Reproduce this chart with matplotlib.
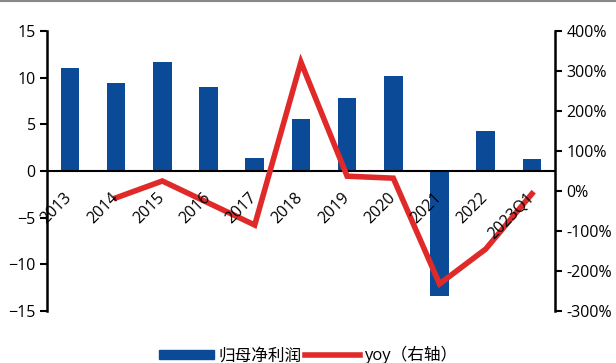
import matplotlib
matplotlib.use("Agg")
import matplotlib.pyplot as plt
from matplotlib.lines import Line2D
from matplotlib.ticker import FuncFormatter
from matplotlib.transforms import ScaledTranslation

plt.rcParams['font.family'] = ['Open Sans', 'Noto Sans CJK SC', 'DejaVu Sans']

categories = ['2013', '2014', '2015', '2016', '2017', '2018', '2019', '2020', '2021', '2022', '2023Q1']
net_profit = [11.0, 9.4, 11.7, 9.0, 1.4, 5.6, 7.8, 10.2, -13.4, 4.3, 1.3]
yoy_cats = ['2014', '2015', '2016', '2017', '2018', '2019', '2020', '2021', '2022', '2023Q1']
yoy = [-17, 25, -30, -85, 322, 37, 32, -232, -145, -7]

bar_color = '#0A4A96'
line_color = '#E02A2A'

fig = plt.figure(figsize=(6.16, 3.63), dpi=100)
ax = fig.add_axes([0.076, 0.143, 0.825, 0.772])
ax2 = ax.twinx()
ax2.set_ylim(-300, 400)
ax.set_ylim(-15, 15)

x = list(range(len(categories)))
ax.bar(x, net_profit, width=0.4, color=bar_color, zorder=2)
xi = [categories.index(c) for c in yoy_cats]
ax.plot(xi, yoy, color=line_color, lw=4, solid_joinstyle='miter', zorder=3,
        transform=ax2.transData)
ax.set_xlim(-0.5, len(categories) - 0.5)
ax.set_yticks([-15, -10, -5, 0, 5, 10, 15])
ax.spines['top'].set_visible(False)
ax.spines['right'].set_visible(False)
ax.spines['bottom'].set_position(('data', 0))
ax.spines['bottom'].set_linewidth(1.5)
ax.spines['left'].set_linewidth(1.8)
ax.set_xticks(x)
ax.set_xticklabels([])
ax.tick_params(axis='x', length=0)
offset = ScaledTranslation(-6 / 100, -19 / 100, fig.dpi_scale_trans)
for i, c in zip(x, categories):
    ax.text(i, 0, c, transform=ax.transData + offset, rotation=45, ha='right', va='top',
            rotation_mode='anchor', fontsize=11.5, zorder=5, clip_on=False)
ax.tick_params(axis='y', length=5, width=1.5, labelsize=11.5, pad=3)

ax2.set_yticks(range(-300, 401, 100))
ax2.yaxis.set_major_formatter(FuncFormatter(lambda v, p: f'{int(v)}%'))
for s in ['top', 'left', 'bottom']:
    ax2.spines[s].set_visible(False)
ax2.spines['right'].set_linewidth(1.8)
ax2.tick_params(axis='y', length=5, width=1.5, labelsize=11.5, pad=3)

handles = [plt.Rectangle((0, 0), 1, 1, color=bar_color),
           Line2D([0], [0], color=line_color, lw=4)]
fig.legend(handles, ['归母净利润', 'yoy（右轴）'], loc='lower center', bbox_to_anchor=(0.5, -0.045),
           ncol=2, frameon=False, fontsize=12, handlelength=3.3, handleheight=0.45,
           handletextpad=0.25, columnspacing=0.2)

fig.add_artist(Line2D([0, 1], [0.997, 0.997], color='#888888', lw=1.5, transform=fig.transFigure))

fig.savefig('out.png', dpi=100)
